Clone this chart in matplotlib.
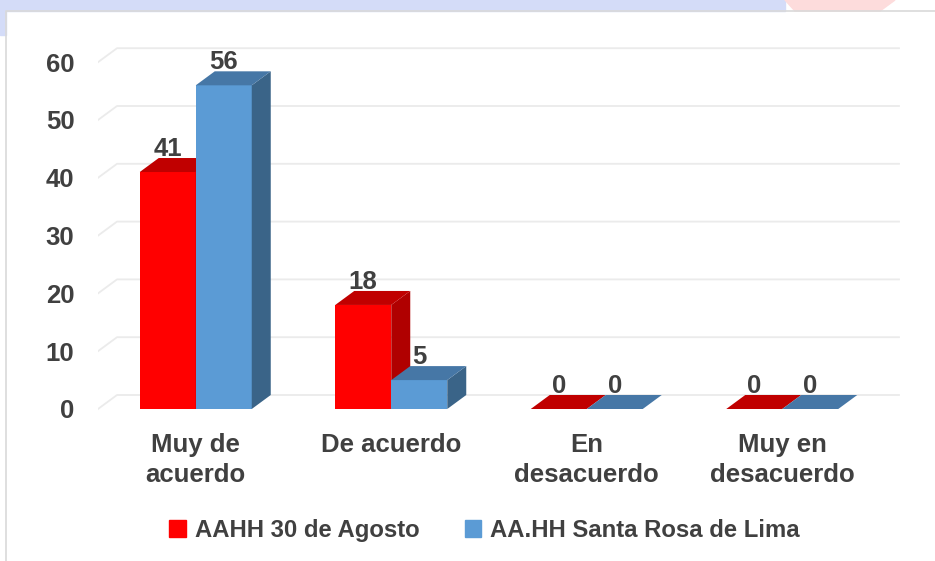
import matplotlib.pyplot as plt
from matplotlib.patches import Polygon, Patch, Rectangle

categories = ['Muy de\nacuerdo', 'De acuerdo', 'En\ndesacuerdo', 'Muy en\ndesacuerdo']
series_names = ['AAHH 30 de Agosto', 'AA.HH Santa Rosa de Lima']
agosto = [41, 18, 0, 0]
santa_rosa = [56, 5, 0, 0]
y_ticks = [0, 10, 20, 30, 40, 50, 60]

# front / top / side colours for each series
colors = [('#FF0000', '#C00000', '#B00000'),
          ('#5B9BD5', '#4677A6', '#3A6488')]
text_color = '#404040'

plt.rcParams['font.family'] = ['Liberation Sans', 'DejaVu Sans']

W, H = 935, 561
fig = plt.figure(figsize=(W / 100, H / 100), dpi=100)

# background decoration (slide frame)
fig.patches.append(Rectangle((0, 1 - 11 / H), 785 / W, 11 / H, transform=fig.transFigure,
                             color='#D4DCF8', zorder=0))
fig.patches.append(Polygon([(785 / W, 1), (895 / W, 1), (880 / W, 1 - 11 / H), (795 / W, 1 - 11 / H)],
                           closed=True, transform=fig.transFigure, color='#FDDCDC', zorder=0))
fig.patches.append(Rectangle((0, 1 - 35 / H), 6 / W, 35 / H, transform=fig.transFigure,
                             color='#D4DCF8', zorder=0))
fig.lines.append(plt.Line2D([6 / W, 6 / W, 1], [0, 1 - 11 / H, 1 - 11 / H], transform=fig.transFigure,
                            color='#D9D9D9', lw=1.2))

# axes placed so that the front plane maps like the original
px_left, px_cat = 98, 195.5
px_zero, px_unit = 409, 5.78
xlo, xhi = -0.5, 3.6
ylo, yhi = -1, 63
ax = fig.add_axes([px_left / W,
                   1 - (px_zero - ylo * px_unit) / H,
                   (xhi - xlo) * px_cat / W,
                   (yhi - ylo) * px_unit / H])
ax.set_xlim(xlo, xhi)
ax.set_ylim(ylo, yhi)

DX = 19 / px_cat
DY = 14 / px_unit
bw = 56 / px_cat

# gridlines with 3D floor/back wall
for v in y_ticks:
    ax.plot([-0.5, -0.5 + DX, 3.5 + DX], [v, v + DY, v + DY], color='#EBEBEB', lw=1.3, zorder=1)

for s, vals in enumerate([agosto, santa_rosa]):
    front, top, side = colors[s]
    for i, v in enumerate(vals):
        x0 = i - bw + s * bw
        x1 = x0 + bw
        if v > 0:
            ax.add_patch(Rectangle((x0, 0), bw, v, color=front, lw=0, zorder=2 + s))
            ax.add_patch(Polygon([(x1, 0), (x1 + DX, DY), (x1 + DX, v + DY), (x1, v)],
                                 closed=True, color=side, lw=0, zorder=2 + s))
        ax.add_patch(Polygon([(x0, v), (x1, v), (x1 + DX, v + DY), (x0 + DX, v + DY)],
                             closed=True, color=top, lw=0, zorder=2 + s))
        ax.text((x0 + x1) / 2, v + DY - 0.5, str(v), ha='center', va='bottom',
                fontsize=18.5, fontweight='bold', color=text_color, zorder=5)

ax.set_yticks(y_ticks)
ax.set_yticklabels([str(t) for t in y_ticks], fontsize=18.5, fontweight='bold', color=text_color)
ax.set_xticks(range(len(categories)))
ax.set_xticklabels(categories, fontsize=18.5, fontweight='bold', color=text_color, linespacing=1.3)
ax.tick_params(axis='y', length=0, pad=17)
ax.tick_params(axis='x', length=0, pad=13)
for sp in ax.spines.values():
    sp.set_visible(False)
ax.patch.set_alpha(0)

handles = [Patch(color=colors[0][0]), Patch(color=colors[1][0])]
fig.legend(handles, series_names, loc='center', bbox_to_anchor=(0.518, 0.055), ncol=2,
           frameon=False, handlelength=0.7, handleheight=0.7, handletextpad=0.35,
           columnspacing=1.9, prop={'size': 17.2, 'weight': 'bold'}, labelcolor=text_color)

fig.savefig('out.png', dpi=100)
